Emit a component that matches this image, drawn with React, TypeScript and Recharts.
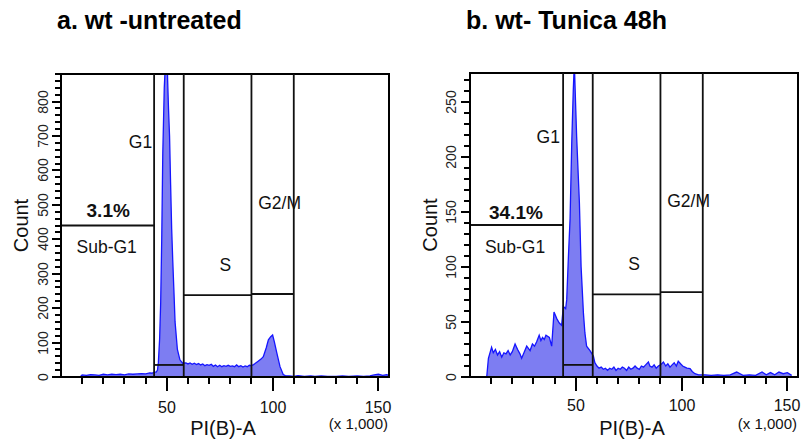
import { Area, AreaChart, XAxis, YAxis, ReferenceLine, ReferenceArea, ReferenceDot } from "recharts";

const FONT = '"Liberation Sans", Arial, Helvetica, sans-serif';

// PI(B)-A bins (x 1,000) and counts
const untreatedX = [
  9, 10, 12, 14, 16, 18, 20, 22, 24, 26, 28, 30, 32, 34, 36, 38, 40, 42, 43, 44,
  45, 45.6, 46, 46.6, 47.1, 47.6, 48.1, 48.8, 49.4, 50, 50.4, 50.8, 51.3, 51.8, 52.3, 52.8, 53.3, 53.9, 55, 56.2, 57.5,
  59, 60, 61, 62, 63, 64, 65, 66, 67, 68, 69, 70, 71, 72, 73, 74, 75, 76, 77, 78, 79, 80,
  81, 82, 83, 84, 85, 86, 87, 88, 89, 90, 91, 91.7, 93, 94.5, 95.6, 97, 98, 99.1, 100, 100.8, 101.9, 103.5, 105,
  106, 108, 110, 112, 115, 118, 120, 123, 126, 130, 133, 136, 140, 143, 146, 148, 150, 152, 154, 155,
];
const untreatedCount = [
  0, 6, 5, 7, 6, 5, 8, 6, 8, 7, 8, 6, 9, 8, 9, 10, 9, 12, 11, 14,
  14, 20, 41, 110, 215, 400, 650, 840, 920, 960, 860, 780, 700, 560, 430, 340, 260, 160, 80, 50, 40,
  41, 38, 41, 37, 40, 36, 39, 35, 38, 33, 36, 34, 37, 31, 35, 30, 34, 30, 33, 31, 34, 31,
  32, 30, 35, 30, 33, 29, 32, 30, 34, 33, 36, 39, 45, 52, 59, 85, 108, 117, 122, 103, 72, 30, 7,
  4, 3, 2, 4, 2, 3, 2, 3, 2, 2, 3, 2, 3, 2, 3, 6, 8, 5, 7, 4,
];

const tunicaX = [
  7.9, 8.7, 10.2, 11, 12, 13, 14, 15, 16, 17, 18, 19, 20, 21.3, 22.5, 23.6, 24.4, 25.5, 26.8, 28.4, 29.5, 30.5, 31.5,
  32.7, 33.5, 34.3, 35.1, 35.9, 37.5, 38.6, 39.7, 41, 42.2, 43.3, 44.1, 45.2, 45.7, 46.5, 47.3, 48.1, 48.8, 49.3,
  50, 50.4, 51.7, 52.5, 53.6, 54.3, 55.1, 56.7, 58.3, 59, 60, 61, 62, 63, 64, 65, 66, 67, 68, 69, 70, 71, 72, 73,
  74, 75, 76, 77, 78, 79, 80, 81, 82, 83, 84.3, 85, 86, 87, 88, 89, 90, 91.4, 92.5, 93.5, 94.5, 95.5, 96.5, 97.5, 98.4,
  99.5, 100.5, 101.5, 102.5, 104, 105, 106.3, 108, 111, 114, 117, 120, 123, 126, 129, 132, 135, 138, 140, 142, 144, 146, 148, 150, 152,
];
const tunicaCount = [
  0, 17, 27, 22, 25, 20, 23, 18, 22, 21, 24, 20, 23, 30, 25, 21, 17, 22, 28, 24, 30, 28, 32,
  38, 33, 36, 34, 38, 36, 28, 59, 53, 49, 47, 64, 62, 70, 109, 144, 214, 260, 285,
  242, 218, 158, 100, 58, 40, 28, 24, 19, 13, 10, 8, 9, 7, 8, 6, 8, 7, 9, 6, 8, 7, 9, 8,
  6, 9, 7, 8, 10, 8, 7, 10, 9, 11, 13.6, 10, 9, 11, 8, 10, 11, 13.6, 10, 12, 9, 11, 13, 10, 14.3,
  12, 10, 9, 8, 7.6, 5, 3, 2, 2, 1.5, 2, 1.5, 2, 4.5, 1.5, 2, 1.5, 4.5, 2, 4, 2, 4.5, 3, 4, 1.5,
];

// gate boundaries (x 1,000): Sub-G1 | G1 | S | G2/M
const gateEdges = [0, 44, 58, 90, 110];
const untreatedGateLevels = [440, 35, 238, 241];
const tunicaGateLevels = [138, 11, 75, 77];
const gateNames = ["Sub-G1", "G1", "S", "G2/M"];

const xTicks = [10, 20, 30, 40, 50, 60, 70, 80, 90, 100, 110, 120, 130, 140, 150];

type Cfg = {
  title: string;
  xs: number[];
  ys: number[];
  levels: number[];
  pct: string;
  yMax: number;
  yStep: number;
  yMajor: number;
  yAxisW: number;
  top: number;
  right: number;
  labelDx: number;
  xLabelDy: number;
  spots: { sub: [number, number]; pct: [number, number]; g1: [number, number]; s: [number, number]; g2: [number, number] };
};

const XTick = (p: any) => {
  const v = p.payload.value;
  const major = v % 50 === 0;
  const x = Math.round(p.x);
  return (
    <g>
      <line x1={x} x2={x} y1={p.y} y2={p.y + (major ? 14 : 7)} stroke="#000" strokeWidth={2} />
      {major && (
        <text x={x} y={p.y + p.dy} textAnchor="middle" dominantBaseline="central" fontSize={16} fontFamily={FONT} fill="#111">
          {v}
        </text>
      )}
    </g>
  );
};

const YTick = (p: any) => {
  const v = p.payload.value;
  const major = v % p.major === 0;
  const y = Math.round(p.y);
  const lx = p.x - p.labelDx;
  return (
    <g>
      <line x1={p.x} x2={p.x - (major ? 9 : 6)} y1={y} y2={y} stroke="#000" strokeWidth={2} />
      {major && (
        <text x={lx} y={y} transform={`rotate(-90 ${lx} ${y})`} textAnchor="middle" dominantBaseline="central" fontSize={14} fontFamily={FONT} fill="#222">
          {v}
        </text>
      )}
    </g>
  );
};

const txt = (s: string, anchor: "start" | "middle" | "end", size: number, bold = false) => (p: any) => (
  <text x={p.cx} y={p.cy} textAnchor={anchor} dominantBaseline="central" fontSize={size} fontWeight={bold ? 700 : 400} fontFamily={FONT} fill="#111">
    {s}
  </text>
);

function Panel({ c }: { c: Cfg }) {
  const data = c.xs.map((x, i) => ({ x, count: c.ys[i] }));
  const yTicks: number[] = [];
  for (let v = 0; v <= c.yMax; v += c.yStep) yTicks.push(v);

  return (
    <div style={{ position: "relative", width: 406, height: 439 }}>
      <div style={{ position: "absolute", left: c.yAxisW - 4, top: 7, fontFamily: FONT, fontWeight: 700, fontSize: 25, lineHeight: "27px", color: "#000" }}>
        {c.title}
      </div>
      <AreaChart width={406} height={439} data={data} margin={{ top: c.top, right: c.right, bottom: 0, left: 0 }}>
        <XAxis
          dataKey="x"
          type="number"
          domain={[0, 155]}
          ticks={xTicks}
          interval={0}
          allowDataOverflow
          height={62}
          tickSize={0}
          tickMargin={0}
          axisLine={{ stroke: "#000", strokeWidth: 2 }}
          tick={(p: any) => <XTick {...p} dy={c.xLabelDy} />}
          label={{
            content: (p: any) => {
              const vb = p.viewBox;
              return (
                <g fontFamily={FONT} fill="#111">
                  <text x={vb.x + vb.width / 2 - 2} y={vb.y + 51} textAnchor="middle" dominantBaseline="central" fontSize={20}>
                    PI(B)-A
                  </text>
                  <text x={vb.x + vb.width - 1} y={vb.y + 46} textAnchor="end" dominantBaseline="central" fontSize={15}>
                    (x 1,000)
                  </text>
                </g>
              );
            },
          }}
        />
        <YAxis
          type="number"
          domain={[0, c.yMax]}
          ticks={yTicks}
          interval={0}
          allowDataOverflow
          width={c.yAxisW}
          tickSize={0}
          tickMargin={0}
          axisLine={{ stroke: "#000", strokeWidth: 2 }}
          tick={(p: any) => <YTick {...p} major={c.yMajor} labelDx={c.labelDx} />}
          label={{
            content: (p: any) => {
              const vb = p.viewBox;
              const cx = vb.x + c.yAxisW - 40;
              const cy = vb.y + vb.height / 2;
              return (
                <text x={cx} y={cy} transform={`rotate(-90 ${cx} ${cy})`} textAnchor="middle" dominantBaseline="central" fontSize={20} fontFamily={FONT} fill="#111">
                  Count
                </text>
              );
            },
          }}
        />
        <Area
          type="linear"
          dataKey="count"
          stroke="#1515ff"
          strokeWidth={1.3}
          fill="#7d7df2"
          fillOpacity={1}
          isAnimationActive={false}
          dot={false}
          activeDot={false}
        />
        {gateEdges.slice(1).map((e) => (
          <ReferenceLine key={`v${e}`} x={e} stroke="#111" strokeWidth={1.8} />
        ))}
        {c.levels.map((lv, i) => (
          <ReferenceLine
            key={`h${i}`}
            segment={[
              { x: gateEdges[i], y: lv },
              { x: gateEdges[i + 1], y: lv },
            ]}
            stroke="#111"
            strokeWidth={1.8}
          />
        ))}
        <ReferenceArea x1={0} x2={155} y1={0} y2={c.yMax} fill="none" stroke="#000" strokeWidth={2} />
        <ReferenceDot x={c.spots.pct[0]} y={c.spots.pct[1]} shape={txt(c.pct, "middle", 19, true)} />
        <ReferenceDot x={c.spots.sub[0]} y={c.spots.sub[1]} shape={txt(gateNames[0], "middle", 17.5)} />
        <ReferenceDot x={c.spots.g1[0]} y={c.spots.g1[1]} shape={txt(gateNames[1], "end", 17.5)} />
        <ReferenceDot x={c.spots.s[0]} y={c.spots.s[1]} shape={txt(gateNames[2], "middle", 17.5)} />
        <ReferenceDot x={c.spots.g2[0]} y={c.spots.g2[1]} shape={txt(gateNames[3], "middle", 17.5)} />
      </AreaChart>
    </div>
  );
}

const left: Cfg = {
  title: "a. wt -untreated",
  xs: untreatedX,
  ys: untreatedCount,
  levels: untreatedGateLevels,
  pct: "3.1%",
  yMax: 880,
  yStep: 20,
  yMajor: 100,
  yAxisW: 61,
  top: 74,
  right: 17,
  labelDx: 18,
  xLabelDy: 30,
  spots: { pct: [22.3, 483], sub: [21.6, 378], g1: [43.1, 683], s: [77.7, 326], g2: [103.3, 506] },
};

const right: Cfg = {
  title: "b. wt- Tunica 48h",
  xs: tunicaX,
  ys: tunicaCount,
  levels: tunicaGateLevels,
  pct: "34.1%",
  yMax: 276,
  yStep: 10,
  yMajor: 50,
  yAxisW: 64,
  top: 73,
  right: 14,
  labelDx: 19,
  xLabelDy: 28,
  spots: { pct: [21.7, 149], sub: [21.3, 118], g1: [42.5, 218], s: [77.6, 103], g2: [103.3, 160] },
};

export default function App() {
  return (
    <div style={{ position: "fixed", left: 0, top: 0, width: 812, height: 439, background: "#fff", display: "flex" }}>
      <Panel c={left} />
      <Panel c={right} />
    </div>
  );
}
